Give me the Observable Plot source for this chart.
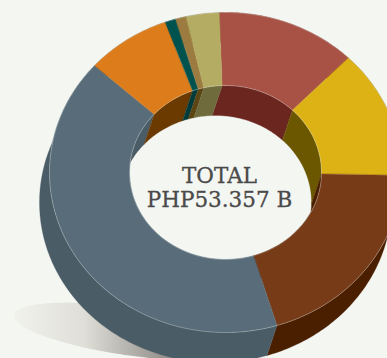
<!DOCTYPE html>
<html>
<head>
<meta charset="utf-8">
<style>
  html, body { margin: 0; padding: 0; background: #f4f6f2; overflow: hidden; }
</style>
<script src="https://cdn.jsdelivr.net/npm/d3@7"></script>
<script src="https://cdn.jsdelivr.net/npm/@observablehq/plot@0.6"></script>
</head>
<body>
<div id="chart"></div>
<script>
// Budget shares in PHP billions, clockwise from the red slice.
const sliceNames = ["red", "yellow", "brown", "slate", "orange", "teal", "tan", "khaki"];
const sliceValues = [6.86, 6.93, 10.67, 22.08, 4.15, 0.52, 0.52, 1.627];
const faceColors = ["#a85245", "#dcb214", "#773b17", "#586d79", "#dd7c1b", "#00524f", "#9b7b3f", "#b5ac64"];
const wallColors = ["#6a261f", "#6b5700", "#4a1f00", "#4a5c66", "#6b3a00", "#003b3b", "#5a4513", "#6f6b3c"];
const centerLines = ["TOTAL", "PHP53.357 B"];

// Tilted donut: elliptical rims, extruded down and slightly to the left.
const center = [225, 172];
const outerRadii = [176, 160];
const innerRadii = [96, 87];
const extrude = [-10, 30];
const startAngle = -2;

const pie = d3.pie().sort(null).value(d => d.value)
  .startAngle(startAngle * Math.PI / 180)
  .endAngle((startAngle + 360) * Math.PI / 180);
const arcs = pie(sliceNames.map((name, i) => ({name, value: sliceValues[i], face: faceColors[i], wall: wallColors[i]})));

function rimPoint(angle, radii, offset = [0, 0]) {
  return {
    x: center[0] + offset[0] + radii[0] * Math.sin(angle),
    y: center[1] + offset[1] - radii[1] * Math.cos(angle)
  };
}

function sweep(a0, a1) {
  const steps = Math.max(2, Math.ceil(Math.abs(a1 - a0) / (Math.PI / 180)));
  return d3.range(steps + 1).map(i => a0 + (a1 - a0) * i / steps);
}

// A closed band between two rims, swept over one slice.
function band(arc, radiiA, offsetA, radiiB, offsetB, color) {
  const there = sweep(arc.startAngle, arc.endAngle).map(a => rimPoint(a, radiiA, offsetA));
  const back = sweep(arc.endAngle, arc.startAngle).map(a => rimPoint(a, radiiB, offsetB));
  return there.concat(back).map(p => ({...p, slice: arc.data.name, color}));
}

const outerWalls = arcs.flatMap(a => band(a, outerRadii, [0, 0], outerRadii, extrude, a.data.wall));
const innerWalls = arcs.flatMap(a => band(a, innerRadii, [0, 0], innerRadii, extrude, a.data.wall));
const faces = arcs.flatMap(a => band(a, outerRadii, [0, 0], innerRadii, [0, 0], a.data.face));

const fullTurn = sweep(0, 2 * Math.PI);
const rims = [
  ...fullTurn.map(a => ({...rimPoint(a, outerRadii), rim: "outer"})),
  ...fullTurn.map(a => ({...rimPoint(a, innerRadii), rim: "inner"}))
];

// Ground shadow: a flattened, slightly rotated ellipse under the donut.
const shadowTilt = 8 * Math.PI / 180;
const shadow = fullTurn.map(a => {
  const ex = 118 * Math.cos(a), ey = 24 * Math.sin(a);
  return {
    x: 130 + ex * Math.cos(shadowTilt) - ey * Math.sin(shadowTilt),
    y: 331 + ex * Math.sin(shadowTilt) + ey * Math.cos(shadowTilt)
  };
});

const shadowGradient = () => {
  const svg = d3.create("svg:g");
  const grad = svg.append("defs").append("linearGradient")
    .attr("id", "ground-shadow").attr("x1", 0).attr("x2", 1).attr("y1", 0).attr("y2", 0);
  grad.append("stop").attr("offset", "0%").attr("stop-color", "#f1f2ec");
  grad.append("stop").attr("offset", "30%").attr("stop-color", "#dfdfd8");
  grad.append("stop").attr("offset", "72%").attr("stop-color", "#85807c");
  return svg.node();
};

const polygon = (rows) => Plot.line(rows, {
  x: "x", y: "y", z: "slice", fill: "color", stroke: "color", strokeWidth: 0.3, curve: "linear-closed"
});

const chart = Plot.plot({
  width: 387,
  height: 358,
  margin: 0,
  style: {background: "#f4f6f2", overflow: "hidden"},
  x: {domain: [0, 387], range: [0, 387], axis: null},
  y: {domain: [0, 358], range: [0, 358], axis: null},
  color: {type: "identity"},
  marks: [
    shadowGradient,
    Plot.line(shadow, {x: "x", y: "y", fill: "url(#ground-shadow)", stroke: "none", curve: "linear-closed"}),
    polygon(outerWalls),
    polygon(innerWalls),
    polygon(faces),
    Plot.line(rims, {x: "x", y: "y", z: "rim", stroke: "#e4e8e6", strokeOpacity: 0.55, strokeWidth: 0.6}),
    Plot.text(centerLines, {
      x: () => 219,
      y: (d, i) => 182 + i * 24,
      text: d => d,
      fontFamily: "DejaVu Serif",
      fontSize: 21.5,
      fill: "#4a4a4a",
      stroke: "#4a4a4a",
      strokeWidth: 0.3,
      textAnchor: "middle",
      lineAnchor: "bottom"
    })
  ]
});
document.getElementById("chart").append(chart);
</script>
</body>
</html>
